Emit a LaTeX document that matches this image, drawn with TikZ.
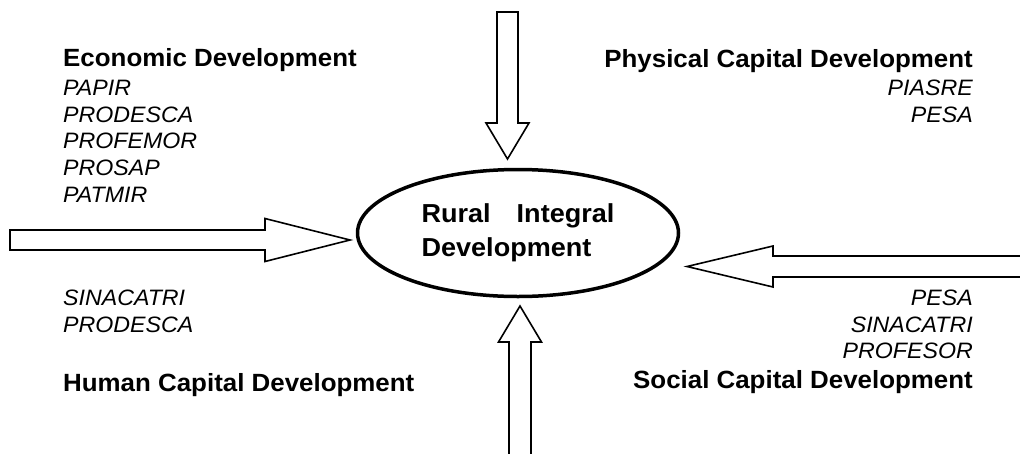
\documentclass[tikz,border=0pt]{standalone}
\usepackage{fontspec}
\setmainfont{Liberation Sans}[FakeStretch=1.04]
\usetikzlibrary{calc,shapes.geometric}
\newcommand{\headfont}{\fontsize{24.9}{28}\selectfont\bfseries}
\newcommand{\progfont}{\fontsize{22.3}{26}\selectfont\itshape}
\newcommand{\centerfont}{\fontsize{26}{34}\selectfont\bfseries}
% block arrow: tail, tip, shaft half width, head half width, head length
\newcommand{\blockarrow}[5]{%
  \path ($(#2)!#5!(#1)$) coordinate (hb);
  \draw[arrowbox] ($(#1)!#3!90:(#2)$) -- ($(hb)!#3!90:(#2)$) -- ($(hb)!#4!90:(#2)$)
    -- (#2) -- ($(hb)!#4!-90:(#2)$) -- ($(hb)!#3!-90:(#2)$) -- ($(#1)!#3!-90:(#2)$) -- cycle;
}
\begin{document}
\begin{tikzpicture}[x=1pt,y=-1pt,
    heading/.style={font=\headfont, inner sep=0},
    prog/.style={font=\progfont, inner sep=0},
    arrowbox/.style={draw=black, fill=white, line width=1.6pt, line join=miter}]
        \useasboundingbox (0,0) rectangle (1020,453);
        % Centre
        \node[ellipse, draw, line width=3.5pt, minimum width=321, minimum height=127,
              inner sep=0, font=\centerfont, align=left] (rid) at (518,233)
              {Rural\hspace{1.0em}Integral\\Development};
        % Economic development (top left)
        \node[heading, anchor=base west] (eco) at (63,66) {Economic Development};
        \foreach \t [count=\i] in {PAPIR,PRODESCA,PROFEMOR,PROSAP,PATMIR} {
            \node[prog, anchor=base west] (eco\i) at (63,68.5+26.75*\i) {\t};
        }
        % Physical capital development (top right)
        \node[heading, anchor=base east] (phy) at (973,67) {Physical Capital Development};
        \foreach \t [count=\i] in {PIASRE,PESA} {
            \node[prog, anchor=base east] (phy\i) at (973,68.5+26.75*\i) {\t};
        }
        % Human capital development (bottom left)
        \foreach \t [count=\i] in {SINACATRI,PRODESCA} {
            \node[prog, anchor=base west] (hum\i) at (63,278.5+26.75*\i) {\t};
        }
        \node[heading, anchor=base west] (hum) at (63,391) {Human Capital Development};
        % Social capital development (bottom right)
        \foreach \t [count=\i] in {PESA,SINACATRI,PROFESOR} {
            \node[prog, anchor=base east] (soc\i) at (973,278.5+26.75*\i) {\t};
        }
        \node[heading, anchor=base east] (soc) at (973,388) {Social Capital Development};
        % Arrows into the centre
        \coordinate (ecotail) at (10,240);
        \coordinate (ecotip) at (350,240);
        \coordinate (phytail) at (507.5,12);
        \coordinate (phytip) at (507.5,159);
        \coordinate (humtail) at (520,458);
        \coordinate (humtip) at (520,306);
        \coordinate (soctail) at (1026,266.5);
        \coordinate (soctip) at (687,266.5);
        \blockarrow{ecotail}{ecotip}{10pt}{21.5pt}{85pt}
        \blockarrow{phytail}{phytip}{10.5pt}{21.5pt}{36pt}
        \blockarrow{humtail}{humtip}{11pt}{21.5pt}{36pt}
        \blockarrow{soctail}{soctip}{10.5pt}{20.5pt}{86pt}
    \end{tikzpicture}
\end{document}
